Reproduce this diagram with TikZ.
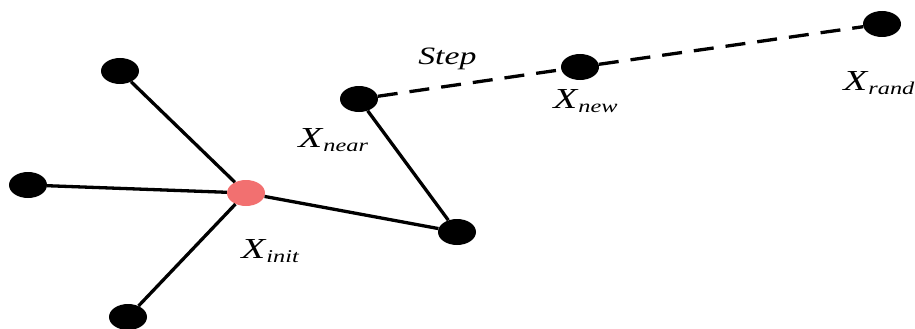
\documentclass[tikz,border=0pt]{standalone}
\usepackage{fontspec}
\setmainfont{Liberation Serif}
\usetikzlibrary{shapes.geometric}
\definecolor{rootred}{RGB}{242,112,112}
% label: italic X with a lowered italic subscript
\newcommand{\xsub}[1]{\fontsize{29}{29}\selectfont\textit{X}\raisebox{-4pt}{\fontsize{18}{18}\selectfont\textit{#1}}}
\begin{document}
\begin{tikzpicture}[x=1pt,y=-1pt,
  vertex/.style={ellipse,fill=black,minimum width=38pt,minimum height=26pt,inner sep=0pt},
  rootvertex/.style={vertex,fill=rootred},
  edge/.style={line width=3.3pt,black},
  stepline/.style={line width=3.3pt,black,dash pattern=on 20pt off 12pt},
  lbl/.style={anchor=base west,inner sep=0pt,xscale=1.35}]
\useasboundingbox (0,0) rectangle (915,329);
% tree vertices
\node[rootvertex] (init) at (246,193) {};
\node[vertex] (tl) at (120,71) {};
\node[vertex] (lf) at (28,185) {};
\node[vertex] (bt) at (128,317) {};
\node[vertex] (rt) at (457,232) {};
\node[vertex] (near) at (359,99) {};
\node[vertex] (new) at (580,67) {};
\node[vertex] (rand) at (882,24) {};
% tree edges
\draw[edge] (init) -- (tl);
\draw[edge] (init) -- (lf);
\draw[edge] (init) -- (bt);
\draw[edge] (init) -- (rt);
\draw[edge] (rt) -- (near);
% extension towards the random sample
\draw[stepline] (near) -- (new);
\draw[stepline] (new) -- (rand);
% labels
\node[lbl] (lstep) at (418,65) {\fontsize{25}{25}\selectfont\textit{Step}};
\node[lbl] (lnear) at (298,147) {\xsub{near}};
\node[lbl] (lnew) at (553,108) {\xsub{new}};
\node[lbl] (lrand) at (843,90) {\xsub{rand}};
\node[lbl] (linit) at (241,258) {\xsub{init}};
\end{tikzpicture}
\end{document}
